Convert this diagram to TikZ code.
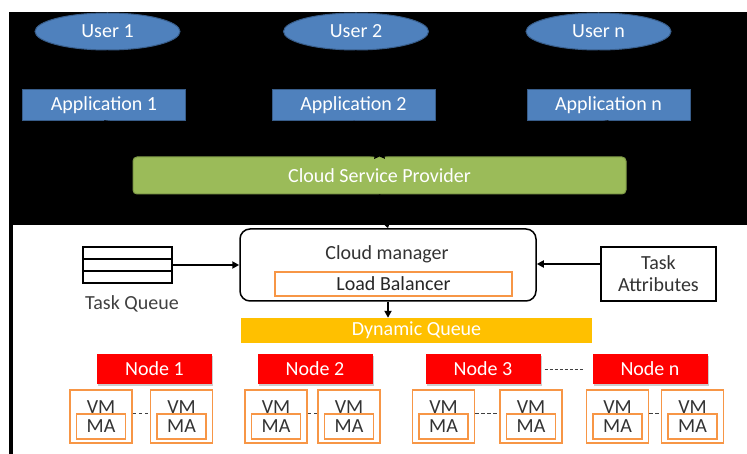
\documentclass[tikz,border=0pt]{standalone}
\usepackage{fontspec}
\setmainfont{Carlito}
\usetikzlibrary{shapes.geometric,arrows.meta,shadows}
\definecolor{appblue}{HTML}{4F81BD}
\definecolor{appline}{HTML}{385D8A}
\definecolor{cspgreen}{HTML}{9BBB59}
\definecolor{cspline}{HTML}{7F9B47}
\definecolor{dqgold}{HTML}{FFC000}
\definecolor{vmorange}{HTML}{F79646}
\definecolor{nodered}{HTML}{FF0000}
\begin{document}
\begin{tikzpicture}[x=1pt, y=-1pt, font=\fontsize{20}{22}\selectfont,
    user/.style={ellipse, draw=appline, fill=appblue, line width=1pt, text=white,
        minimum width=145pt, minimum height=37pt, inner sep=0pt},
    app/.style={rectangle, draw=appline, fill=appblue, line width=1pt, text=white,
        minimum width=163pt, minimum height=31pt, inner sep=0pt},
    hidden/.style={black, line width=1.5pt, -{Triangle[length=5pt,width=6pt]}},
    flow/.style={black, line width=1.8pt, -{Triangle[length=7pt,width=7pt]}},
    cnode/.style={fill=nodered, text=white, minimum width=115pt, minimum height=30pt,
        inner sep=0pt, drop shadow={shadow xshift=1pt, shadow yshift=-2pt, opacity=.4}},
    vmbox/.style={draw=vmorange, line width=1.5pt, minimum width=62pt, minimum height=53pt, inner sep=0pt},
    mabox/.style={draw=vmorange, line width=1.5pt, fill=white, text=black!80,
        minimum width=49pt, minimum height=25pt, inner sep=0pt},
    gap/.style={black!75, line width=1pt, dash pattern=on 3.5pt off 2.5pt}]
    \useasboundingbox (0,0) rectangle (747,454);
    \fill[black] (9,12) rectangle (747,225);
    \draw[black, line width=3.5pt] (11,225) -- (11,454);

    % users and their applications (arrows are black on black)
    \node[fill=cspgreen, draw=cspline, line width=1pt, rounded corners=4pt, text=white,
        minimum width=493pt, minimum height=37pt] (csp) at (379.5,175.5) {Cloud Service Provider};
    \foreach \i/\ux/\ax in {1/107.5/104, 2/356/353.5, n/598.5/608.5} {
        \node[user] (u\i) at (\ux,31.5) {User \i};
        \node[app] (a\i) at (\ax,105) {Application \i};
        \draw[hidden] (u\i.south) -- (a\i.north);
        \draw[hidden] (a\i.south) -- (csp.north);
    }

    \node[draw, line width=1.5pt, rounded corners=10pt, minimum width=296pt, minimum height=72pt] (cm) at (388,265) {};
    \node[text=black!80] (cmtext) at (387,254) {Cloud manager};
    \node[draw=vmorange, line width=1.5pt, text=black!85, minimum width=237pt, minimum height=24pt,
        inner sep=0pt] (lb) at (393.5,284) {Load Balancer};
    \draw[hidden] (csp.south) -- (cm.north);

    \foreach \r in {1,2,3}
        \node[draw, line width=1.5pt, minimum width=89pt, minimum height=12pt, inner sep=0pt] (tq\r) at (127.5,241+12*\r) {};
    \node[text=black!75] (tqlabel) at (132,304) {Task Queue};
    \draw[flow] (tq2.east) -- (tq2.east -| cm.west);

    \node[draw, line width=1.5pt, text=black!80, align=center, minimum width=115pt, minimum height=54pt,
        inner sep=0pt] (ta) at (658.5,274) {Task\\Attributes};
    \draw[flow] ([yshift=10pt]ta.west) -- ([yshift=10pt]ta.west -| cm.east);

    \node[fill=dqgold, text=white, minimum width=351pt, minimum height=25pt, inner sep=0pt] (dq) at (416.5,330.5) {Dynamic Queue};
    \draw[flow] (cm.south -| 388,0) -- (dq.north -| 388,0);

    \foreach \i/\x in {1/154.5, 2/315, 3/483, n/650}
        \node[cnode] (n\i) at (\x,369) {Node \i};
    \draw[gap, dash pattern=on 3pt off 2pt, shorten <=4pt, shorten >=9pt] (n3.east) -- (nn.west);

    \foreach \j/\x in {1/101, 2/181.5, 3/276, 4/349, 5/443.5, 6/531, 7/617.5, 8/692.5} {
        \node[vmbox] (vm\j) at (\x,416.5) {};
        \node[anchor=base, text=black!80, inner sep=0pt] (vmt\j) at (\x,413) {VM};
        \node[mabox] (ma\j) at (\x,426.5) {MA};
    }
    \foreach \a/\b in {1/2, 3/4, 5/6, 7/8}
        \draw[gap] (vm\a.east |- ma\a.north) -- (vm\b.west |- ma\b.north);
\end{tikzpicture}
\end{document}
